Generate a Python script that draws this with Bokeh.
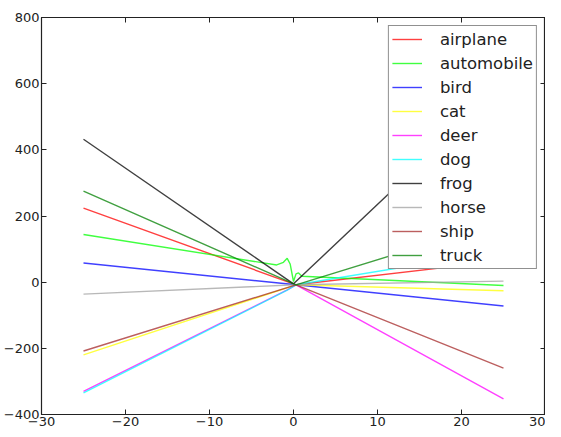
from bokeh.plotting import figure
from bokeh.models import LinearAxis, FixedTicker, CustomJSTickFormatter, Range1d, Legend, LegendItem
from bokeh.embed import file_html
from bokeh.resources import INLINE

# ---- data ----
names = ["airplane", "automobile", "bird", "cat", "deer", "dog", "frog", "horse", "ship", "truck"]
colors = ["#ff0000", "#00ff00", "#0000ff", "#ffff00", "#ff00ff", "#00ffff", "#000000", "#a0a0a0", "#a52a2a", "#008000"]

airplane_x = [-25, 0.3, 25]
airplane_y = [224, -8, 65]
automobile_x = [-25, -2.0, -1.2, -0.75, -0.4, 0.0, 0.3, 0.6, 1.0, 25]
automobile_y = [144, 52, 60, 72, 55, 2, 25, 28, 18, -10]
bird_x = [-25, 0.3, 25]
bird_y = [58, -8, -72]
cat_x = [-25, 0.3, 25]
cat_y = [-220, -8, -26]
deer_x = [-25, -0.8, 0.3, 25]
deer_y = [-330, -24, -8, -353]
dog_x = [-25, -0.8, 0.3, 25]
dog_y = [-335, -25, -8, 95]
frog_x = [-25, 0.0, 25]
frog_y = [432, -5, 595]
horse_x = [-25, 0.3, 25]
horse_y = [-36, -8, 3]
ship_x = [-25, 0.3, 25]
ship_y = [-208, -8, -260]
truck_x = [-25, 0.3, 25]
truck_y = [275, -8, 185]

series_x = [airplane_x, automobile_x, bird_x, cat_x, deer_x, dog_x, frog_x, horse_x, ship_x, truck_x]
series_y = [airplane_y, automobile_y, bird_y, cat_y, deer_y, dog_y, frog_y, horse_y, ship_y, truck_y]

x_ticks = [-30, -20, -10, 0, 10, 20, 30]
y_ticks = [-400, -200, 0, 200, 400, 600, 800]

FONT = "DejaVu Sans"
fmt = CustomJSTickFormatter(code="return tick < 0 ? '\\u2212' + Math.abs(tick) : String(tick);")
blank = CustomJSTickFormatter(code="return '';")

p = figure(width=545, height=428, output_backend="svg", toolbar_location=None,
           x_range=Range1d(-30, 30), y_range=Range1d(-400, 800),
           x_axis_location=None, y_axis_location=None,
           min_border_left=0, min_border_right=0, min_border_top=17, min_border_bottom=0)
p.grid.visible = False
p.outline_line_color = "#222222"
p.outline_line_width = 1.2
p.background_fill_color = "white"
p.border_fill_color = "white"

def make_axis(ticks, labels):
    ax = LinearAxis(ticker=FixedTicker(ticks=ticks), formatter=fmt if labels else blank)
    ax.major_tick_in = 5
    ax.major_tick_out = 0
    ax.minor_tick_line_color = None
    ax.axis_line_color = "#222222"
    ax.major_tick_line_color = "#222222"
    ax.major_label_text_font = FONT
    ax.major_label_text_font_size = "13px"
    ax.major_label_text_color = "#222222"
    ax.major_label_standoff = 2 if labels else 0
    return ax

p.add_layout(make_axis(x_ticks, True), "below")
p.add_layout(make_axis(y_ticks, True), "left")
p.add_layout(make_axis(x_ticks, False), "above")
p.add_layout(make_axis(y_ticks, False), "right")

items = []
for name, col, xs, ys in zip(names, colors, series_x, series_y):
    r = p.line(xs, ys, line_color=col, line_width=1.4, line_alpha=0.75)
    items.append(LegendItem(label=name, renderers=[r]))

legend = Legend(items=items, location="top_right")
legend.label_text_font = FONT
legend.label_text_font_size = "16.5px"
legend.label_text_color = "#222222"
legend.label_height = 20
legend.glyph_height = 20
legend.glyph_width = 30
legend.label_standoff = 18
legend.spacing = 4
legend.padding = 3
legend.margin = 8
legend.border_line_color = "#222222"
legend.border_line_width = 1.2
legend.background_fill_alpha = 1.0
p.add_layout(legend, "center")

open("out.html", "w").write(file_html(p, INLINE))
